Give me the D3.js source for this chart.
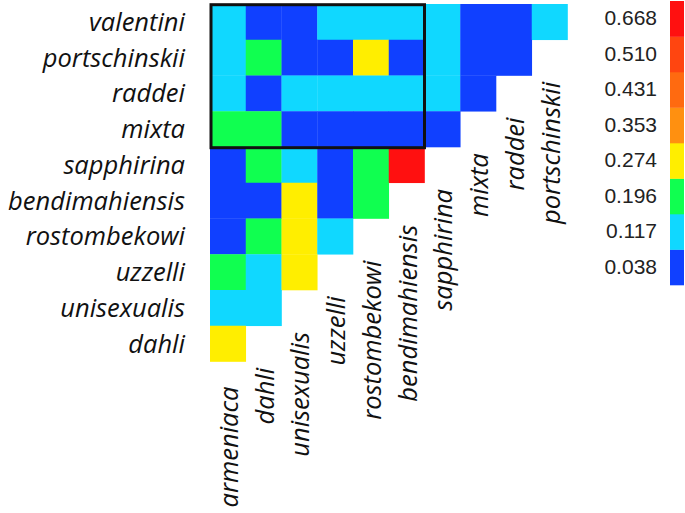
<!DOCTYPE html>
<html>
<head>
<meta charset="utf-8">
<script src="https://cdn.jsdelivr.net/npm/d3@7"></script>
<style>
  body { margin: 0; background: #fff; }
  svg { display: block; }
</style>
</head>
<body>
<div id="chart"></div>
<script>
// row / column names of the triangular matrix
const rowNames = ["valentini", "portschinskii", "raddei", "mixta", "sapphirina",
  "bendimahiensis", "rostombekowi", "uzzelli", "unisexualis", "dahli"]
const colNames = ["armeniaca", "dahli", "unisexualis", "uzzelli", "rostombekowi",
  "bendimahiensis", "sapphirina", "mixta", "raddei", "portschinskii"]

// values per row, in column order
const valentiniVals = [0.117, 0.038, 0.038, 0.117, 0.117, 0.117, 0.117, 0.038, 0.038, 0.117]
const portschinskiiVals = [0.117, 0.196, 0.038, 0.038, 0.274, 0.038, 0.117, 0.038, 0.038]
const raddeiVals = [0.117, 0.038, 0.117, 0.117, 0.117, 0.117, 0.117, 0.038]
const mixtaVals = [0.196, 0.196, 0.038, 0.038, 0.038, 0.038, 0.038]
const sapphirinaVals = [0.038, 0.196, 0.117, 0.038, 0.196, 0.668]
const bendimahiensisVals = [0.038, 0.038, 0.274, 0.038, 0.196]
const rostombekowiVals = [0.038, 0.196, 0.274, 0.117]
const uzzelliVals = [0.196, 0.117, 0.274]
const unisexualisVals = [0.117, 0.117]
const dahliVals = [0.274]

const matrix = [valentiniVals, portschinskiiVals, raddeiVals, mixtaVals, sapphirinaVals,
  bendimahiensisVals, rostombekowiVals, uzzelliVals, unisexualisVals, dahliVals]

// legend ticks and colours
const legendTicks = [0.038, 0.117, 0.196, 0.274, 0.353, 0.431, 0.510, 0.668]
const legendColors = ["#1040ff", "#10d8ff", "#10ff50", "#ffee00", "#ff9010", "#ff6a10", "#ff4510", "#ff1010"]

// highlighted block (first 4 rows x first 6 columns)
const boxRows = ["valentini", "mixta"]
const boxCols = ["armeniaca", "bendimahiensis"]

const width = 685
const height = 513
const labelFont = "'Open Sans', 'DejaVu Sans', sans-serif"
const labelSize = 25.5

const svg = d3.select("#chart").append("svg")
  .attr("width", width)
  .attr("height", height)

// 比例尺
const x = d3.scaleBand().domain(colNames).range([210, 567.5])
const y = d3.scaleBand().domain(rowNames).range([4, 361.5])

const color = d3.scaleThreshold()
  .domain(d3.pairs(legendTicks).map(([a, b]) => (a + b) / 2))
  .range(legendColors)

const cells = []
matrix.forEach((vals, i) => {
  vals.forEach((v, j) => cells.push({ row: rowNames[i], col: colNames[j], value: v }))
})

// cells
svg.append("g")
  .selectAll("rect")
  .data(cells)
  .join("rect")
  .attr("x", d => x(d.col))
  .attr("y", d => y(d.row))
  .attr("width", x.bandwidth() + 0.3)
  .attr("height", y.bandwidth() + 0.3)
  .attr("fill", d => color(d.value))

// highlight box
svg.append("rect")
  .attr("x", x(boxCols[0]) + 1)
  .attr("y", y(boxRows[0]) + 0.7)
  .attr("width", x(boxCols[1]) + x.bandwidth() - x(boxCols[0]) - 1)
  .attr("height", y(boxRows[1]) + y.bandwidth() - y(boxRows[0]))
  .attr("fill", "none")
  .attr("stroke", "#111")
  .attr("stroke-width", 3)

// row labels
svg.append("g")
  .selectAll("text")
  .data(rowNames)
  .join("text")
  .attr("x", 185)
  .attr("y", d => y(d) + y.bandwidth() / 2)
  .attr("dy", "0.35em")
  .attr("text-anchor", "end")
  .attr("font-family", labelFont)
  .attr("font-style", "italic")
  .attr("font-size", labelSize)
  .attr("fill", "#111")
  .text(d => d)

// column labels, rotated, ending below the last cell of each column
svg.append("g")
  .selectAll("text")
  .data(colNames)
  .join("text")
  .attr("transform", (d, j) => {
    const bottom = y(rowNames[rowNames.length - 1 - j]) + y.bandwidth()
    const top = bottom + (j === 0 ? 25 : 42)
    return `translate(${x(d) + x.bandwidth() / 2 + 1},${top}) rotate(-90)`
  })
  .attr("dy", "0.35em")
  .attr("text-anchor", "end")
  .attr("font-family", labelFont)
  .attr("font-style", "italic")
  .attr("font-size", labelSize)
  .attr("fill", "#111")
  .text(d => d)

// colour bar legend
const legendY = d3.scaleBand()
  .domain(legendTicks.slice().reverse())
  .range([1, 285])

const legend = svg.append("g")
legend.selectAll("rect")
  .data(legendTicks)
  .join("rect")
  .attr("x", 670)
  .attr("y", d => legendY(d))
  .attr("width", 14)
  .attr("height", legendY.bandwidth() + 0.3)
  .attr("fill", d => color(d))

legend.selectAll("text")
  .data(legendTicks)
  .join("text")
  .attr("x", 657)
  .attr("y", d => legendY(d) + legendY.bandwidth() / 2 - 1)
  .attr("dy", "0.35em")
  .attr("text-anchor", "end")
  .attr("font-family", "'Liberation Sans', Arial, sans-serif")
  .attr("font-size", 21)
  .attr("fill", "#222")
  .text(d => d3.format(".3f")(d))
</script>
</body>
</html>
